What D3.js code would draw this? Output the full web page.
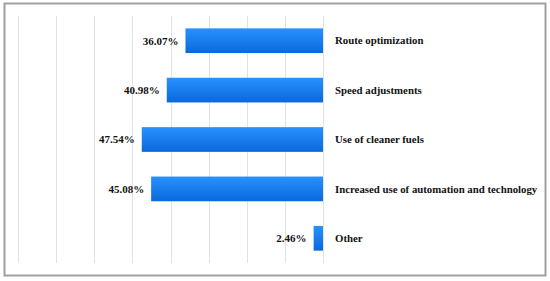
<!DOCTYPE html>
<html>
<head>
<meta charset="utf-8">
<script src="https://cdn.jsdelivr.net/npm/d3@7"></script>
<style>
  body { margin: 0; background: #fff; }
</style>
</head>
<body>
<div id="barchart"></div>
<script>
var categories = ["Route optimization", "Speed adjustments", "Use of cleaner fuels",
  "Increased use of automation and technology", "Other"];
var values = [36.07, 40.98, 47.54, 45.08, 2.46];
var gridTicks = [0, 10, 20, 30, 40, 50, 60, 70, 80];

var width = 550, height = 281;
var serif = "'Liberation Serif', 'Times New Roman', serif";

var svg = d3.select("#barchart")
  .append("svg")
    .attr("width", width)
    .attr("height", height);

// outer frame
svg.append("rect")
  .attr("x", 4.5).attr("y", 3.5)
  .attr("width", 541).attr("height", 272)
  .attr("fill", "none")
  .attr("stroke", "#a0a0a0")
  .attr("stroke-width", 2);

var defs = svg.append("defs");
var grad = defs.append("linearGradient")
  .attr("id", "barGrad")
  .attr("x1", 0).attr("y1", 0).attr("x2", 0).attr("y2", 1);
grad.append("stop").attr("offset", "0%").attr("stop-color", "#2792ff");
grad.append("stop").attr("offset", "100%").attr("stop-color", "#0a68dc");

// zero on the right, bars grow to the left
var x = d3.scaleLinear()
  .domain([0, 80])
  .range([323, 18]);

var y = d3.scaleBand()
  .domain(categories)
  .range([16, 263])
  .paddingInner(0.5)
  .paddingOuter(0.25);

// vertical gridlines
svg.append("g")
  .selectAll("line")
  .data(gridTicks)
  .enter()
  .append("line")
    .attr("x1", function(d) { return Math.round(x(d)) + 0.5; })
    .attr("x2", function(d) { return Math.round(x(d)) + 0.5; })
    .attr("y1", 16)
    .attr("y2", 263)
    .attr("stroke", "#e2e2e2")
    .attr("stroke-width", 1);

// bars
svg.selectAll("rect.bar")
  .data(values)
  .enter()
  .append("rect")
    .attr("class", "bar")
    .attr("x", function(d) { return x(d); })
    .attr("y", function(d, i) { return y(categories[i]); })
    .attr("width", function(d) { return x(0) - x(d); })
    .attr("height", y.bandwidth())
    .attr("fill", "url(#barGrad)");

// value labels
svg.selectAll("text.val")
  .data(values)
  .enter()
  .append("text")
    .attr("class", "val")
    .attr("x", function(d) { return x(d) - 7; })
    .attr("y", function(d, i) { return y(categories[i]) + y.bandwidth() / 2; })
    .attr("dy", "0.35em")
    .attr("text-anchor", "end")
    .attr("font-family", serif)
    .attr("font-weight", "bold")
    .attr("font-size", 11)
    .attr("fill", "#111")
    .text(function(d) { return d.toFixed(2) + "%"; });

// category labels
svg.selectAll("text.cat")
  .data(categories)
  .enter()
  .append("text")
    .attr("class", "cat")
    .attr("x", 335)
    .attr("y", function(d) { return y(d) + y.bandwidth() / 2; })
    .attr("dy", "0.35em")
    .attr("font-family", serif)
    .attr("font-weight", "bold")
    .attr("font-size", 10.8)
    .attr("fill", "#111")
    .text(function(d) { return d; });
</script>
</body>
</html>
